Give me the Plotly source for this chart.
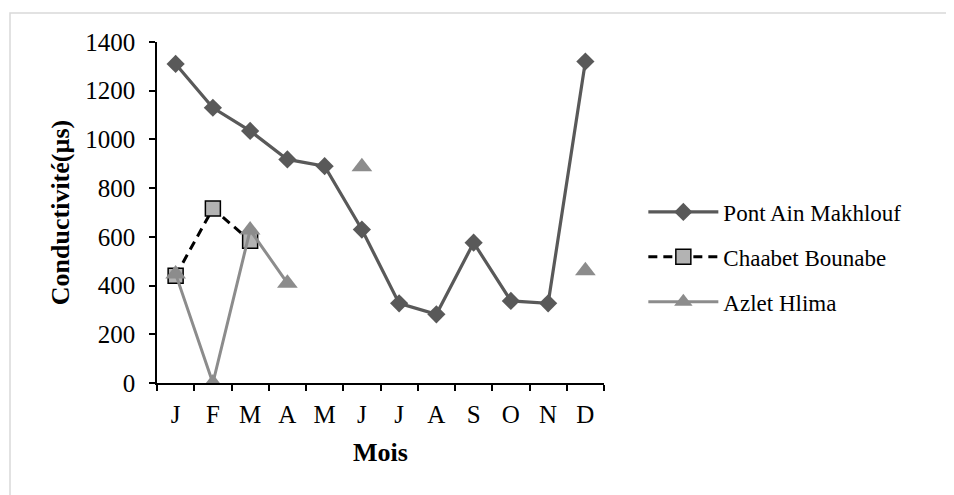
import plotly.graph_objects as go

months = ["J", "F", "M", "A", "M ", "J ", "J  ", "A ", "S", "O", "N", "D"]
month_labels = ["J", "F", "M", "A", "M", "J", "J", "A", "S", "O", "N", "D"]

pont_ain_makhlouf = [1310, 1130, 1035, 918, 890, 630, 327, 282, 576, 337, 327, 1320]
chaabet_bounabe = [440, 716, 584, None, None, None, None, None, None, None, None, None]
azlet_hlima = [448, 0, 628, 410, None, 888, None, None, None, None, None, 461]

FONT = "Liberation Serif"

fig = go.Figure()
fig.add_trace(go.Scatter(
    x=months, y=pont_ain_makhlouf, name="Pont Ain Makhlouf", mode="lines+markers",
    line=dict(color="#595959", width=3.2),
    marker=dict(symbol="diamond", size=14, color="#595959"),
    legendgroup="a",
))
fig.add_trace(go.Scatter(
    x=months, y=chaabet_bounabe, name="Chaabet Bounabe", mode="lines+markers",
    line=dict(color="#000000", width=3, dash="9px,6px"),
    marker=dict(symbol="square", size=15, color="#b3b3b3", line=dict(color="#000000", width=1.5)),
    legendgroup="b",
))
fig.add_trace(go.Scatter(
    x=months, y=azlet_hlima, name="Azlet Hlima", mode="lines+markers",
    line=dict(color="#8c8c8c", width=3),
    marker=dict(symbol="triangle-up", size=18, color="#8c8c8c"),
    connectgaps=False,
    legendgroup="c",
))

fig.update_layout(
    width=954, height=495,
    margin=dict(l=149, r=358, t=34, b=120),
    paper_bgcolor="white", plot_bgcolor="white",
    font=dict(family=FONT, size=24, color="#000000"),
    showlegend=True,
    legend=dict(
        x=1.088, xanchor="left", y=0.3695, yanchor="middle",
        font=dict(family=FONT, size=23, color="#000000"),
        tracegroupgap=12, itemwidth=70, bgcolor="rgba(0,0,0,0)",
    ),
    xaxis=dict(
        type="category", categoryorder="array", categoryarray=months,
        tickvals=months, ticktext=month_labels,
        range=[-0.5, 11.5], showgrid=False, zeroline=False,
        showline=True, linecolor="#000000", linewidth=1.5,
        ticks="outside", tickson="boundaries", ticklen=6, tickwidth=1.5, tickcolor="#000000",
        tickfont=dict(family=FONT, size=25), ticklabelstandoff=8,
        title=dict(text="<b>Mois</b>", font=dict(family=FONT, size=26), standoff=16),
    ),
    yaxis=dict(
        range=[0, 1400], dtick=200, showgrid=False, zeroline=False,
        showline=True, linecolor="#000000", linewidth=1.5,
        ticks="outside", ticklen=6, tickwidth=1.5, tickcolor="#000000",
        tickfont=dict(family=FONT, size=25), ticklabelstandoff=9,
        title=dict(text="<b>Conductivité(µs)</b>", font=dict(family=FONT, size=26), standoff=8),
    ),
    shapes=[dict(
        type="rect", xref="paper", yref="paper",
        x0=(2 - 149) / 447, x1=(960 - 149) / 447,
        y0=(375 - 500) / 341, y1=(375 - 5) / 341,
        line=dict(color="#d9d9d9", width=1.5), fillcolor="rgba(0,0,0,0)", layer="below",
    )],
)

fig.write_html("out.html")
